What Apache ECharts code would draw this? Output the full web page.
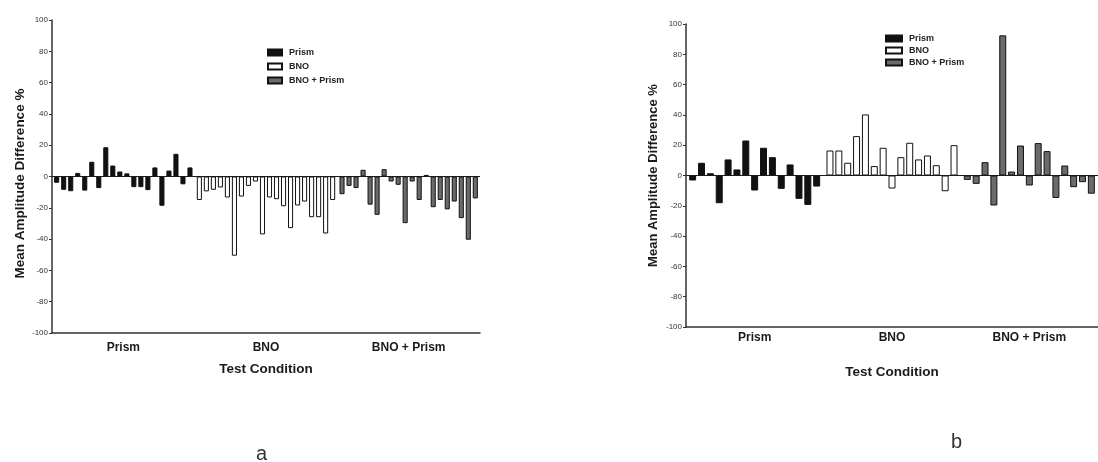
<!DOCTYPE html>
<html>
<head>
<meta charset="utf-8">
<script src="https://cdn.jsdelivr.net/npm/echarts@6/dist/echarts.min.js"></script>
<style>
  html, body { margin: 0; padding: 0; background: #fff; }
  #main { width: 1098px; height: 462px; }
</style>
</head>
<body>
<div id="main"></div>
<script>
const categories = ['Prism', 'BNO', 'BNO + Prism'];
const legendNames = ['Prism', 'BNO', 'BNO + Prism'];

// panel a: 20 subjects per condition
const prismA = [-4, -8.5, -9.4, 2.3, -9, 9.4, -7.4, 18.7, 7, 3.2, 2, -6.8, -6.8, -8.7, 5.8, -18.7, 3.8, 14.5, -5, 5.8];
const bnoA = [-15, -9.5, -8.5, -7, -13.4, -50.6, -12.8, -6, -3.2, -37, -13.4, -14.5, -19, -33, -18.5, -16, -26, -26, -36.4, -15];
const bnoPrismA = [-11.3, -6, -7.4, 4.3, -18, -24.5, 4.7, -3.2, -5.3, -29.8, -3.2, -15, 1, -19.6, -15, -21, -16, -26.6, -40.4, -14];

// panel b: 15 subjects per condition
const prismB = [-3.3, 8.4, 1.5, -18.3, 10.6, 4, 23.1, -9.9, 18.3, 12.1, -8.8, 7.3, -15.4, -19.4, -7.3];
const bnoB = [16.5, 16.5, 8.4, 26, 40.3, 6.2, 18.3, -8.6, 12.1, 21.6, 10.6, 13.2, 6.8, -10.4, 20];
const bnoPrismB = [-2.9, -5.5, 8.8, -19.8, 92.5, 2.6, 19.8, -6.6, 21.4, 16.1, -14.8, 6.6, -7.7, -4.4, -12];

const font = 'Arial, "Liberation Sans", sans-serif';
const ink = '#1a1a1a';
const barStyles = [
  {color: '#111', borderColor: '#111', borderWidth: 1},
  {color: '#fff', borderColor: '#111', borderWidth: 1},
  {color: '#6b6b6b', borderColor: '#111', borderWidth: 1}
];

function subjectSeries(groups, axisIdx, barGap, catGap) {
  const n = groups[0].length;
  const out = [];
  for (let i = 0; i < n; i++) {
    out.push({
      name: 'S' + axisIdx + '_' + (i + 1),
      type: 'bar',
      xAxisIndex: axisIdx,
      yAxisIndex: axisIdx,
      barGap: barGap,
      barCategoryGap: catGap,
      silent: true,
      data: groups.map((g, k) => ({value: g[i], itemStyle: barStyles[k]})),
      markLine: i === 0 ? {
        silent: true,
        symbol: ['none', 'none'],
        label: {show: false},
        lineStyle: {color: ink, width: 1, type: 'solid'},
        data: [{yAxis: 0}]
      } : undefined
    });
  }
  return out;
}

function catAxis(gridIdx, labelMargin, nameGap) {
  return {
    type: 'category',
    gridIndex: gridIdx,
    data: categories,
    name: 'Test Condition',
    nameLocation: 'middle',
    nameGap: nameGap,
    nameTextStyle: {fontFamily: font, fontWeight: 'bold', fontSize: 13.5, color: ink},
    axisLine: {onZero: false, lineStyle: {color: '#333', width: 1.5}},
    axisTick: {alignWithLabel: true, length: 3, lineStyle: {color: '#333'}},
    axisLabel: {fontFamily: font, fontWeight: 'bold', fontSize: 12, color: ink, margin: labelMargin}
  };
}

function valAxis(gridIdx, nameGap, nameSize, namePad) {
  return {
    type: 'value',
    gridIndex: gridIdx,
    min: -100,
    max: 100,
    interval: 20,
    name: 'Mean Amplitude Difference %',
    nameLocation: 'middle',
    nameRotate: 90,
    nameGap: nameGap,
    nameTextStyle: {fontFamily: font, fontWeight: 'bold', fontSize: nameSize, color: ink, padding: namePad},
    axisLine: {show: true, lineStyle: {color: '#333', width: 1.5}},
    axisTick: {show: true, length: 3, lineStyle: {color: '#333'}},
    splitLine: {show: false},
    axisLabel: {fontFamily: font, fontSize: 8, color: '#333', margin: 4}
  };
}

const legendSeries = legendNames.map((name, k) => ({
  name: name,
  type: 'bar',
  xAxisIndex: 2,
  yAxisIndex: 2,
  itemStyle: barStyles[k],
  data: []
}));

function legendAt(left, top, gap, w) {
  return {
    left: left,
    top: top,
    itemGap: gap,
    orient: 'vertical',
    data: legendNames,
    icon: 'rect',
    itemWidth: w,
    itemHeight: 6,
    selectedMode: false,
    textStyle: {fontFamily: font, fontWeight: 'bold', fontSize: 9, color: '#222', padding: [0, 0, 0, 2]}
  };
}

const option = {
  animation: false,
  backgroundColor: '#fff',
  title: [
    {text: 'a', left: 251, top: 439, textStyle: {fontFamily: font, fontWeight: 'normal', fontSize: 20, color: '#333'}},
    {text: 'b', left: 946, top: 427, textStyle: {fontFamily: font, fontWeight: 'normal', fontSize: 20, color: '#333'}}
  ],
  legend: [
    legendAt(262, 43, 5, 14),
    legendAt(880, 29, 3, 16)
  ],
  grid: [
    {left: 52, top: 20, width: 428, height: 313},
    {left: 686, top: 24, width: 420, height: 303},
    {left: 0, top: 0, width: 10, height: 10, show: false}
  ],
  xAxis: [
    catAxis(0, 9, 29),
    catAxis(1, 5, 38),
    {type: 'category', gridIndex: 2, show: false, data: ['x']}
  ],
  yAxis: [
    valAxis(0, 25, 13.5, [0, 14, 0, 0]),
    valAxis(1, 26, 13, 0),
    {type: 'value', gridIndex: 2, show: false}
  ],
  series: [
    ...subjectSeries([prismA, bnoA, bnoPrismA], 0, '38%', '3%'),
    ...subjectSeries([prismB, bnoB, bnoPrismB], 1, '27%', '4.6%'),
    ...legendSeries
  ]
};

const chart = echarts.init(document.getElementById('main'));
chart.setOption(option);
</script>
</body>
</html>
